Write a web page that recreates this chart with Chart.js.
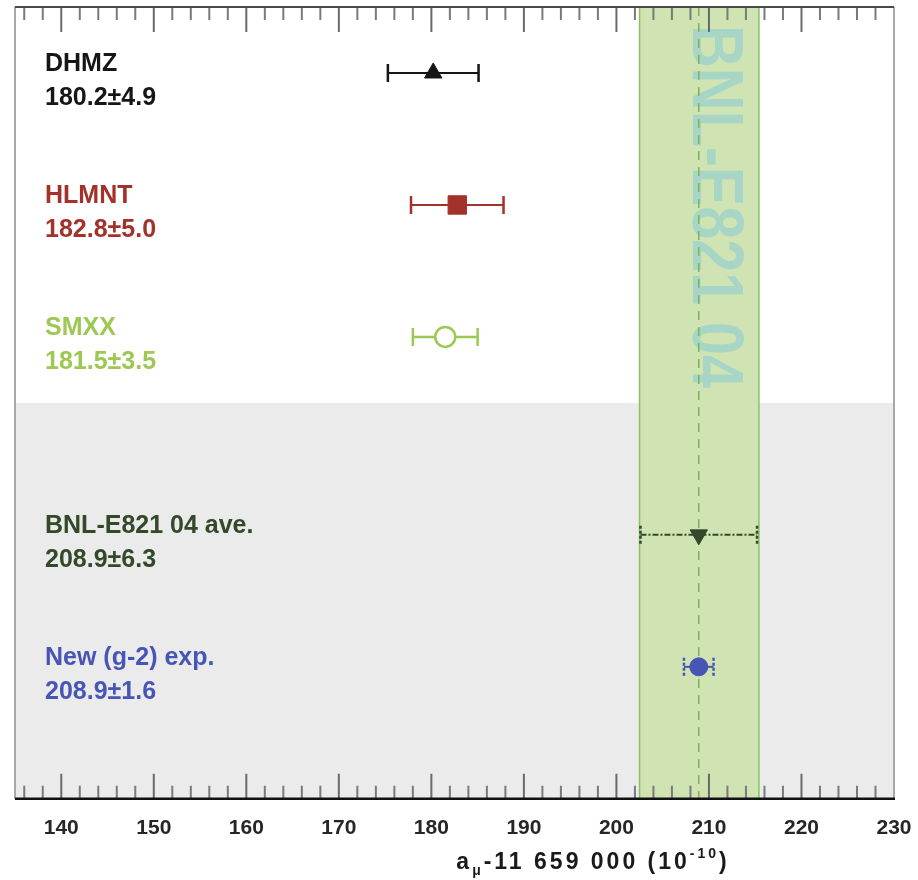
<!DOCTYPE html>
<html>
<head>
<meta charset="utf-8">
<title>g-2 comparison</title>
<script src="https://cdn.jsdelivr.net/npm/chart.js"></script>
<style>
	body { margin: 0; background: #fff; }
	#wrap { width: 918px; height: 880px; position: relative; }
</style>
</head>
<body>
<div id="wrap"><canvas id="myChart"></canvas></div>
<script>
// data
var names = ['DHMZ', 'HLMNT', 'SMXX', 'BNL-E821 04 ave.', 'New (g-2) exp.'];
var values = [180.2, 182.8, 181.5, 208.9, 208.9];
var errors = [4.9, 5.0, 3.5, 6.3, 1.6];
var rows = [0.5, 1.5, 2.5, 4, 5];
var valueLabels = ['180.2\u00b14.9', '182.8\u00b15.0', '181.5\u00b13.5', '208.9\u00b16.3', '208.9\u00b11.6'];
var bandCenter = 208.9;
var bandRange = [202.5, 215.4];
var bandLabel = 'BNL-E821 04';
var shadeFromRow = 3;
var xTicks = [140, 150, 160, 170, 180, 190, 200, 210, 220, 230];

var colors = ['#161616', '#a3322a', '#9dc853', '#33492a', '#4755b5'];
var pointStyles = ['triangle', 'rect', 'circle', 'triangle', 'circle'];
var pointRot = [0, 0, 0, 180, 0];
var pointSize = [10, 13, 10, 10, 9];
var barWidth = [2, 2, 2.5, 2, 2];
var barDash = [[], [], [], [6, 2, 2, 2], []];
var capDash = [[], [], [], [3, 2], [3, 2]];

var points = [];
for (var i in values) {
	points.push({ x: values[i], y: rows[i] });
}

var underlay = {
	id: 'underlay',
	beforeDatasetsDraw: function(chart) {
		var ctx = chart.ctx;
		var a = chart.chartArea;
		var xs = chart.scales.x;
		var ys = chart.scales.y;
		ctx.save();

		// grey lower part
		var gy = ys.getPixelForValue(shadeFromRow);
		ctx.fillStyle = '#ebebeb';
		ctx.fillRect(a.left, gy, a.right - a.left, a.bottom - gy);

		// BNL band
		var bx1 = xs.getPixelForValue(bandRange[0]);
		var bx2 = xs.getPixelForValue(bandRange[1]);
		ctx.fillStyle = '#cfe3b3';
		ctx.fillRect(bx1, a.top, bx2 - bx1, a.bottom - a.top);
		ctx.strokeStyle = '#8cc063';
		ctx.lineWidth = 1.5;
		ctx.beginPath();
		ctx.moveTo(bx1, a.top); ctx.lineTo(bx1, a.bottom);
		ctx.moveTo(bx2, a.top); ctx.lineTo(bx2, a.bottom);
		ctx.stroke();

		// vertical band label
		var cx = xs.getPixelForValue(bandCenter);
		var len = (gy - 15) - (a.top + 18);
		ctx.save();
		ctx.translate(cx - 6, a.top + 18);
		ctx.rotate(Math.PI / 2);
		ctx.font = 'bold 72px "Liberation Sans Narrow", "Liberation Sans", sans-serif';
		var w = ctx.measureText(bandLabel).width;
		ctx.scale(len / w, 1);
		ctx.fillStyle = '#a8d6c6';
		ctx.textBaseline = 'alphabetic';
		ctx.textAlign = 'left';
		ctx.fillText(bandLabel, 0, 0);
		ctx.restore();

		// dashed central line
		ctx.strokeStyle = '#7db356';
		ctx.lineWidth = 1.5;
		ctx.setLineDash([9, 7]);
		ctx.beginPath();
		ctx.moveTo(cx, a.top);
		ctx.lineTo(cx, a.bottom);
		ctx.stroke();
		ctx.setLineDash([]);

		// error bars
		for (var i = 0; i < values.length; i++) {
			var x1 = xs.getPixelForValue(values[i] - errors[i]);
			var x2 = xs.getPixelForValue(values[i] + errors[i]);
			var y = ys.getPixelForValue(rows[i]);
			ctx.strokeStyle = colors[i];
			ctx.lineWidth = barWidth[i];
			ctx.setLineDash(barDash[i]);
			ctx.beginPath();
			ctx.moveTo(x1, y); ctx.lineTo(x2, y);
			ctx.stroke();
			ctx.setLineDash(capDash[i]);
			ctx.lineWidth = 2.5;
			ctx.beginPath();
			ctx.moveTo(x1, y - 9); ctx.lineTo(x1, y + 9);
			ctx.moveTo(x2, y - 9); ctx.lineTo(x2, y + 9);
			ctx.stroke();
			ctx.setLineDash([]);
		}
		ctx.restore();
	}
};

var overlay = {
	id: 'overlay',
	afterDatasetsDraw: function(chart) {
		var ctx = chart.ctx;
		var a = chart.chartArea;
		var xs = chart.scales.x;
		var ys = chart.scales.y;
		ctx.save();

		// inward ticks top and bottom, every 2 units
		for (var v = 136; v <= 230; v += 2) {
			var px = xs.getPixelForValue(v);
			var major = (v % 10 === 0);
			var l = major ? 25 : 13;
			ctx.strokeStyle = major ? '#6a6a6a' : '#7a7a7a';
			ctx.lineWidth = 2;
			ctx.beginPath();
			ctx.moveTo(px, a.bottom); ctx.lineTo(px, a.bottom - l);
			ctx.moveTo(px, a.top); ctx.lineTo(px, a.top + l);
			ctx.stroke();
		}

		// frame
		ctx.lineWidth = 2;
		ctx.strokeStyle = '#a8a8a8';
		ctx.beginPath();
		ctx.moveTo(a.left, a.top); ctx.lineTo(a.left, a.bottom);
		ctx.moveTo(a.right, a.top); ctx.lineTo(a.right, a.bottom);
		ctx.stroke();
		ctx.strokeStyle = '#4a4a4a';
		ctx.beginPath();
		ctx.moveTo(a.left, a.top); ctx.lineTo(a.right, a.top);
		ctx.stroke();
		ctx.strokeStyle = '#111';
		ctx.lineWidth = 2.5;
		ctx.beginPath();
		ctx.moveTo(a.left, a.bottom); ctx.lineTo(a.right + 1, a.bottom);
		ctx.stroke();

		// names and values on the left
		ctx.font = 'bold 25px "Liberation Sans", Arial, sans-serif';
		ctx.textAlign = 'left';
		ctx.textBaseline = 'middle';
		for (var i = 0; i < names.length; i++) {
			var y = ys.getPixelForValue(rows[i]);
			ctx.fillStyle = colors[i];
			ctx.fillText(names[i], a.left + 30, y - 9);
			ctx.fillText(valueLabels[i], a.left + 30, y + 25);
		}

		// axis title with sub and superscript
		var base = a.bottom + 70;
		var big = 'bold 23px "Liberation Sans", Arial, sans-serif';
		var small = 'bold 14px "Liberation Sans", Arial, sans-serif';
		var parts = [
			{ t: 'a', f: big, dy: 0 },
			{ t: '\u03bc', f: small, dy: 6 },
			{ t: '-11 659 000 (10', f: big, dy: 0 },
			{ t: '-10', f: small, dy: -11 },
			{ t: ')', f: big, dy: 0 }
		];
		ctx.letterSpacing = '3px';
		var total = 0;
		for (var k = 0; k < parts.length; k++) {
			ctx.font = parts[k].f;
			parts[k].w = ctx.measureText(parts[k].t).width;
			total += parts[k].w;
		}
		var tx = chart.width * 0.646 - total / 2;
		ctx.fillStyle = '#1a1a1a';
		ctx.textBaseline = 'alphabetic';
		for (var k = 0; k < parts.length; k++) {
			ctx.font = parts[k].f;
			ctx.fillText(parts[k].t, tx, base + parts[k].dy);
			tx += parts[k].w;
		}
		ctx.restore();
	}
};

var ctx = document.getElementById('myChart');

var chart = new Chart(ctx, {
	type: 'scatter',
	data: {
		datasets: [
			{
				label: 'a_mu',
				data: points,
				pointStyle: pointStyles,
				rotation: pointRot,
				pointRadius: pointSize,
				pointHoverRadius: pointSize,
				backgroundColor: ['#161616', '#a3322a', '#ffffff', '#33492a', '#4755b5'],
				borderColor: colors,
				borderWidth: [1, 1, 2.5, 1, 1]
			}
		]
	},
	options: {
		responsive: true,
		maintainAspectRatio: false,
		animation: false,
		layout: { autoPadding: false, padding: { left: 15, right: 24, top: 7, bottom: 22 } },
		plugins: {
			legend: { display: false },
			tooltip: { enabled: false }
		},
		scales: {
			x: {
				type: 'linear',
				min: 135,
				max: 230,
				afterBuildTicks: function(axis) {
					axis.ticks = xTicks.map(function(v) { return { value: v }; });
				},
				afterFit: function(axis) {
					axis.paddingLeft = 0;
					axis.paddingRight = 0;
				},
				grid: { display: false, drawTicks: false },
				border: { display: false },
				ticks: {
					font: { family: 'Liberation Sans', size: 21, weight: 'bold' },
					color: '#262626',
					padding: 17,
					maxRotation: 0,
					autoSkip: false
				}
			},
			y: {
				type: 'linear',
				min: 0,
				max: 6,
				reverse: true,
				display: false
			}
		}
	},
	plugins: [underlay, overlay]
});
</script>
</body>
</html>
